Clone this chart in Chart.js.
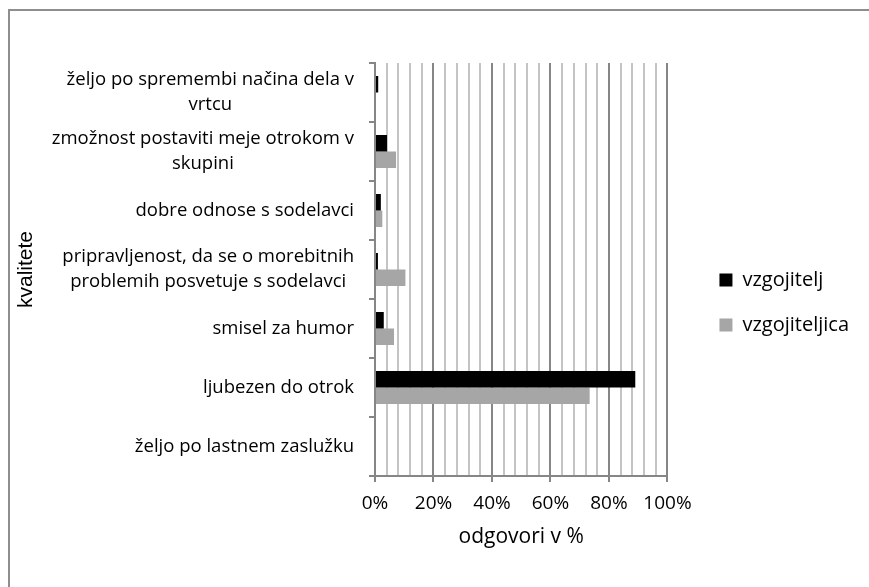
<!DOCTYPE html>
<html>
<head>
<meta charset="utf-8">
<script src="https://cdn.jsdelivr.net/npm/chart.js@4.4.0/dist/chart.umd.min.js"></script>
<style>
  body { margin: 0; background: #fff; overflow: hidden; }
  #frame { position: absolute; left: 8px; top: 9px; width: 900px; height: 600px;
           border-left: 2px solid #8e8e8e; border-top: 2px solid #8e8e8e; }
  #box { position: absolute; left: 0; top: 0; width: 869px; height: 587px; }
</style>
</head>
<body>
<div id="frame"></div>
<div id="box"><canvas id="myChart"></canvas></div>
<script>
const categories = [
  ["željo po spremembi načina dela v", "vrtcu"],
  ["zmožnost postaviti meje otrokom v", "skupini"],
  ["dobre odnose s sodelavci"],
  ["pripravljenost, da se o morebitnih", "problemih posvetuje s sodelavci"],
  ["smisel za humor"],
  ["ljubezen do otrok"],
  ["željo po lastnem zaslužku"]
];
const seriesNames = ["vzgojitelj", "vzgojiteljica"];
const dataVzgojitelj = [1.1, 4.1, 2.0, 1.0, 3.0, 89.0, 0];
const dataVzgojiteljica = [0, 7.2, 2.5, 10.4, 6.5, 73.4, 0];
const xTicks = [0, 20, 40, 60, 80, 100];

const FONT = "'Open Sans', sans-serif";
const labelFont = { family: FONT, size: 18.5 };

// y labels: block right-aligned, lines centred inside the block (like Excel)
const centeredLabels = {
  id: 'centeredLabels',
  afterDraw(chart) {
    const sc = chart.scales.y;
    const ctx = chart.ctx;
    ctx.save();
    ctx.font = labelFont.size + 'px ' + FONT;
    ctx.fillStyle = '#000';
    ctx.textBaseline = 'middle';
    ctx.textAlign = 'center';
    categories.forEach((lines, i) => {
      const y = sc.getPixelForValue(i);
      const w = Math.max(...lines.map(l => ctx.measureText(l).width));
      const cx = sc.right - 21 - w / 2;
      lines.forEach((l, j) => ctx.fillText(l, cx, y + (j - (lines.length - 1) / 2) * 25));
    });
    ctx.restore();
  }
};

// empty spacer scales, only used to push the plot area around
const spacer = (pos, size) => ({
  type: 'linear',
  position: pos,
  grid: { display: false, drawTicks: false },
  ticks: { display: false },
  border: { display: false },
  afterFit(s) { if (pos === 'top') s.height = size; else s.width = size; }
});

new Chart(document.getElementById('myChart'), {
  type: 'bar',
  data: {
    labels: categories,
    datasets: [
      { label: seriesNames[0], data: dataVzgojitelj, backgroundColor: '#000000', borderWidth: 0, xAxisID: 'x', yAxisID: 'y' },
      { label: seriesNames[1], data: dataVzgojiteljica, backgroundColor: '#a6a6a6', borderWidth: 0, xAxisID: 'x', yAxisID: 'y' }
    ]
  },
  options: {
    indexAxis: 'y',
    responsive: true,
    maintainAspectRatio: false,
    animation: false,
    categoryPercentage: 0.556,
    barPercentage: 1,
    layout: { padding: { top: 55, bottom: 37, left: 12, right: 10 } },
    plugins: {
      tooltip: { enabled: false },
      legend: {
        position: 'right',
        maxWidth: 300,
        labels: { boxWidth: 13, boxHeight: 13, padding: 25, color: '#000', font: { family: FONT, size: 20 } }
      }
    },
    scales: {
      x: {
        min: 0, max: 100,
        border: { color: '#868686', width: 2 },
        grid: {
          color: c => c.tick && c.tick.value % 20 === 0 ? '#868686' : '#c4c4c4',
          tickColor: c => c.tick && c.tick.value % 20 === 0 ? '#868686' : 'rgba(0,0,0,0)',
          lineWidth: 2,
          tickLength: 6
        },
        ticks: {
          stepSize: 4, autoSkip: false, maxRotation: 0, padding: 10, color: '#000',
          font: { family: FONT, size: 19 },
          callback: v => xTicks.includes(v) ? v + '%' : ''
        },
        title: { display: true, text: 'odgovori v %', color: '#000', padding: { top: 0, bottom: 0 },
                 font: { family: FONT, size: 21 } }
      },
      y: {
        border: { color: '#868686', width: 2 },
        grid: { drawOnChartArea: false, tickColor: '#868686', tickLength: 6, lineWidth: 2 },
        ticks: { color: 'rgba(0,0,0,0)', padding: 14, font: labelFont },
        title: { display: true, text: 'kvalitete', color: '#000', padding: { top: 2, bottom: 0 },
                 font: { family: "'Liberation Sans', Arial, sans-serif", size: 21 } },
        afterFit(s) { s.width = 363; }
      },
      gapRight: spacer('right', 27),
      gapTop: spacer('top', 8)
    }
  },
  plugins: [centeredLabels]
});
</script>
</body>
</html>
